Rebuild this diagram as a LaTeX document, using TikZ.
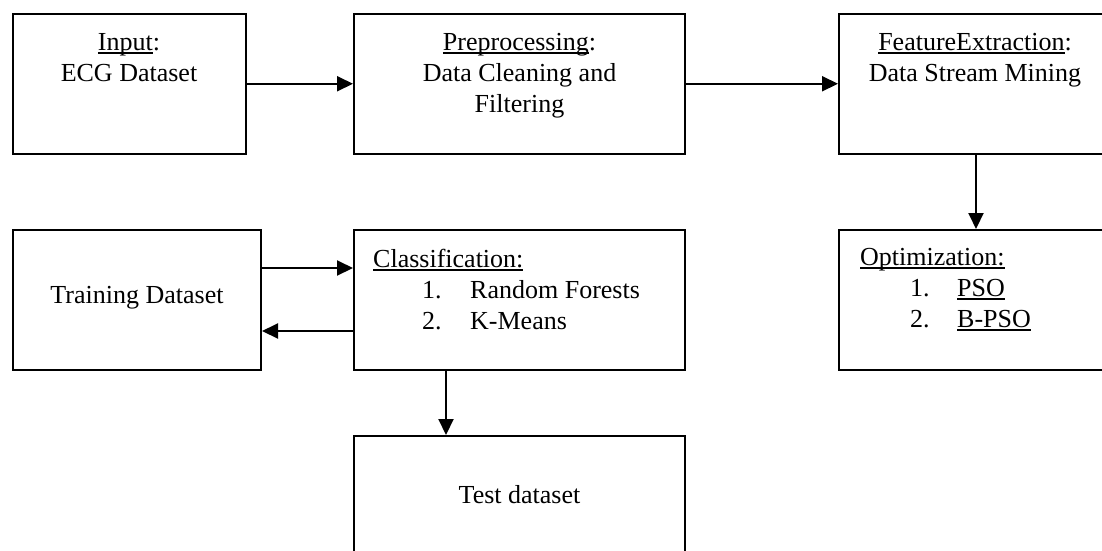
\documentclass[tikz,border=0pt]{standalone}
\usepackage{fontspec}
\setmainfont{Liberation Serif}
\usetikzlibrary{arrows.meta}
\newsavebox\ulbox
\newcommand\ulin[1]{\sbox\ulbox{#1}\rlap{\rule[-3.5pt]{\wd\ulbox}{1.3pt}}\usebox\ulbox}
\begin{document}
\begin{tikzpicture}[x=1pt,y=-1pt,
  box/.style={draw=black,line width=2pt,inner sep=0pt},
  txt/.style={inner sep=0pt,anchor=base,font=\fontsize{26}{31}\selectfont},
  arr/.style={line width=2pt,-{Triangle[length=16pt,width=15pt]}}]
\useasboundingbox (0,0) rectangle (1102,550);
\node[box,minimum width=233.5pt,minimum height=139.5pt] (input) at (129.25,83.75) {};
\node[box,minimum width=331pt,minimum height=139.5pt] (prep) at (519.5,83.75) {};
\node[box,minimum width=274pt,minimum height=139.5pt] (feat) at (976,83.75) {};
\node[box,minimum width=248.5pt,minimum height=140pt] (train) at (136.75,300) {};
\node[box,minimum width=331pt,minimum height=140pt] (class) at (519.5,300) {};
\node[box,minimum width=274pt,minimum height=140pt] (optim) at (976,300) {};
\node[box,minimum width=331pt,minimum height=140pt] (test) at (519.5,506) {};
\node[txt] (input-txt) at (129,50) {\begin{tabular}[t]{@{}c@{}}\ulin{Input}:\\ECG Dataset\end{tabular}};
\node[txt] (prep-txt) at (519.5,50) {\begin{tabular}[t]{@{}c@{}}\ulin{Preprocessing}:\\Data Cleaning and\\Filtering\end{tabular}};
\node[txt] (feat-txt) at (975,50) {\begin{tabular}[t]{@{}c@{}}\ulin{FeatureExtraction}:\\Data Stream Mining\end{tabular}};
\node[txt] (train-txt) at (137,303) {Training Dataset};
\node[txt,anchor=base west] (class-txt) at (373,267) {\begin{tabular}[t]{@{}l@{}}\ulin{Classification:}\\
  \hspace*{49pt}\makebox[48pt][l]{1.}Random Forests\\
  \hspace*{49pt}\makebox[48pt][l]{2.}K-Means\end{tabular}};
\node[txt,anchor=base west] (optim-txt) at (860,265) {\begin{tabular}[t]{@{}l@{}}\ulin{Optimization:}\\
  \hspace*{50pt}\makebox[47pt][l]{1.}\ulin{PSO}\\
  \hspace*{50pt}\makebox[47pt][l]{2.}\ulin{B-PSO}\end{tabular}};
\node[txt] (test-txt) at (519.5,503) {Test dataset};
\draw[arr] (input) -- (prep);
\draw[arr] (prep) -- (feat);
\draw[arr] (feat) -- (optim);
\draw[arr] ([yshift=32pt]train.east) -- ([yshift=32pt]class.west);
\draw[arr] ([yshift=-31pt]class.west) -- ([yshift=-31pt]train.east);
\draw[arr] ([xshift=-73.5pt]class.south) -- ([xshift=-73.5pt]test.north);
\end{tikzpicture}
\end{document}
